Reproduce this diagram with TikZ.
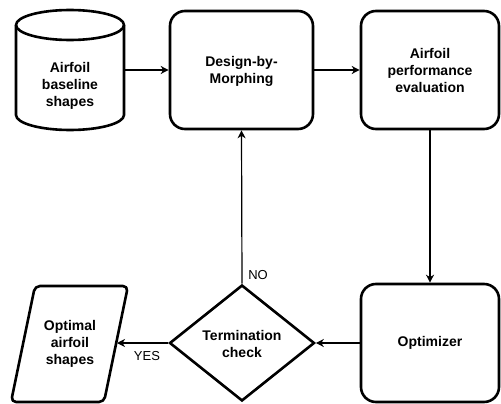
\documentclass[tikz,border=0pt]{standalone}
\usepackage{fontspec}
\setmainfont{Liberation Sans}
\usetikzlibrary{arrows.meta,shapes.geometric}
\tikzset{
  shapeline/.style={line width=2.6pt, line join=round},
  box/.style={shapeline, draw, rounded corners=15pt, minimum width=138pt, minimum height=118pt, inner sep=0pt},
  lbl/.style={font=\fontsize{14}{17}\selectfont\bfseries, align=center, inner sep=0pt},
  tag/.style={font=\fontsize{13}{15}\selectfont, inner sep=0pt},
  flow/.style={line width=1.2pt, -{Stealth[length=8pt,width=8pt,inset=2.5pt]}},
}
\begin{document}
\begin{tikzpicture}[x=1pt,y=-1pt]
\useasboundingbox (0,0) rectangle (501,404);

% database cylinder holding the baseline shapes
\draw[shapeline] (16,25) -- (16,115) arc[start angle=180,end angle=0,x radius=54,y radius=15] -- (124,25);
\draw[shapeline] (70,25) ellipse[x radius=54,y radius=15];
\node[minimum width=108pt, minimum height=120pt, inner sep=0pt] (base) at (70,70) {};
\node[lbl] (basetext) at (70,86) {Airfoil\\baseline\\shapes};

% process boxes
\node[box, minimum width=143pt] (dbm) at (241.5,70) {};
\node[lbl] (dbmtext) at (241.5,71) {Design-by-\\Morphing};
\node[box] (perf) at (430,70) {};
\node[lbl] (perftext) at (430,70) {Airfoil\\performance\\evaluation};
\node[box] (opt) at (430,343) {};
\node[lbl] (opttext) at (430,343) {Optimizer};

% decision
\node[shapeline, draw, diamond, minimum width=145pt, minimum height=116pt, inner sep=0pt, line join=miter] (term) at (242,343) {};
\node[lbl] (termtext) at (242,344) {Termination\\check};

% output parallelogram
\draw[shapeline, rounded corners=5pt] (80,286) -- (128,286) -- (104,402) -- (11,402) -- (35,286) -- cycle;
\node[lbl] (out) at (70,344) {Optimal\\airfoil\\shapes};
\coordinate (outedge) at (117,343);

% connectors
\draw[flow] (base.east) -- (dbm.west);
\draw[flow] (dbm.east) -- (perf.west);
\draw[flow] (perf.south) -- (opt.north);
\draw[flow] (opt.west) -- (term.east);
\draw[flow] (term.north) -- (dbm.south);
\draw[flow] (term.west) -- (outedge);

% branch labels
\node[tag] (no) at (258,275) {NO};
\node[tag] (yes) at (147,356) {YES};
\end{tikzpicture}
\end{document}
